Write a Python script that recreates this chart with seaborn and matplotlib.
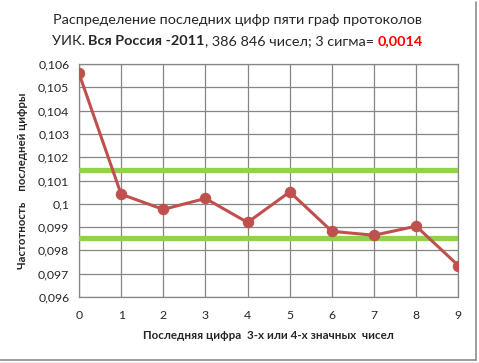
import matplotlib
matplotlib.use('Agg')
import matplotlib.pyplot as plt
import seaborn as sns
import pandas as pd
from matplotlib.lines import Line2D

# data
digits = [0, 1, 2, 3, 4, 5, 6, 7, 8, 9]
freq = [0.1056, 0.10041, 0.09976, 0.10023, 0.09920, 0.10051, 0.09882, 0.09865, 0.09904, 0.09735]
upper_limit = 0.10144
lower_limit = 0.09855
yticks = [0.096, 0.097, 0.098, 0.099, 0.100, 0.101, 0.102, 0.103, 0.104, 0.105, 0.106]
ytick_labels = ['0,096', '0,097', '0,098', '0,099', '0,1', '0,101', '0,102', '0,103', '0,104', '0,105', '0,106']

sns.set_style('white')
plt.rcParams['font.family'] = ['Lato', 'DejaVu Sans']

df = pd.DataFrame({'digit': digits, 'freq': freq})

fig = plt.figure(figsize=(4.79, 3.63), dpi=100)
ax = fig.add_axes([0.1649, 0.1818, 0.7919, 0.6419])

grid_col = '#868686'
ax.axhline(upper_limit, color='#92D050', lw=3.8, zorder=3)
ax.axhline(lower_limit, color='#92D050', lw=3.8, zorder=3)
sns.lineplot(data=df, x='digit', y='freq', ax=ax, color='#C0504D', lw=2.2,
             marker='o', markersize=7.5, markeredgecolor='#C0504D', zorder=4)

ax.set_xlim(0, 9)
ax.set_ylim(0.096, 0.106)
ax.set_xticks(digits)
ax.set_xticklabels([str(d) for d in digits], fontsize=8.8)
ax.set_yticks(yticks)
ax.set_yticklabels(ytick_labels, fontsize=8.8)
ax.grid(True, color=grid_col, lw=0.9)
for s in ax.spines.values():
    s.set_color(grid_col)
    s.set_linewidth(0.9)
ax.tick_params(axis='both', length=4, width=0.9, color=grid_col, direction='out', pad=3)
ax.tick_params(axis='x', pad=5)

ax.set_xlabel('Последняя цифра  3-х или 4-х значных  чисел', fontsize=8.4, fontweight='bold', labelpad=7)
ax.set_ylabel('Частотность    последней цифры', fontsize=8.2, fontweight='bold', labelpad=7)

# title, first line
fig.text(0.495, 1 - 20 / 363, 'Распределение последних цифр пяти граф протоколов',
         ha='center', va='center', fontsize=10.4)

# title, second line in pieces
y2 = 1 - 41 / 363
t0 = fig.text(0.1, y2, 'УИК. ', ha='left', va='center', fontsize=10.4)
t1 = ax.annotate('Вся Россия -2011', xy=(1, 0), xycoords=t0, va='bottom', fontsize=10.4, fontweight='bold')
t2 = ax.annotate(', 386 846 чисел; 3 сигма= ', xy=(1, 0), xycoords=t1, va='bottom', fontsize=10.4)
t3 = ax.annotate('0,0014', xy=(1, 0), xycoords=t2, va='bottom', fontsize=10.4, fontweight='bold', color='red')

fig.canvas.draw()
r = fig.canvas.get_renderer()
x_start = t0.get_window_extent(r).x0
x_end = t3.get_window_extent(r).x1
width = x_end - x_start
new_x0 = 0.495 * fig.bbox.width - width / 2
t0.set_x(new_x0 / fig.bbox.width)

# chart frame lines
fig.add_artist(Line2D([476 / 479, 476 / 479], [1 - 2 / 363, 1 - 360 / 363], color='#8c8c8c', lw=1.2))
fig.add_artist(Line2D([0, 476 / 479], [1 - 360 / 363, 1 - 360 / 363], color='#8c8c8c', lw=1.2))
fig.add_artist(Line2D([0, 1], [1 - 362.5 / 363, 1 - 362.5 / 363], color='#bbbbbb', lw=1.0))

fig.savefig('out.png', dpi=100)
